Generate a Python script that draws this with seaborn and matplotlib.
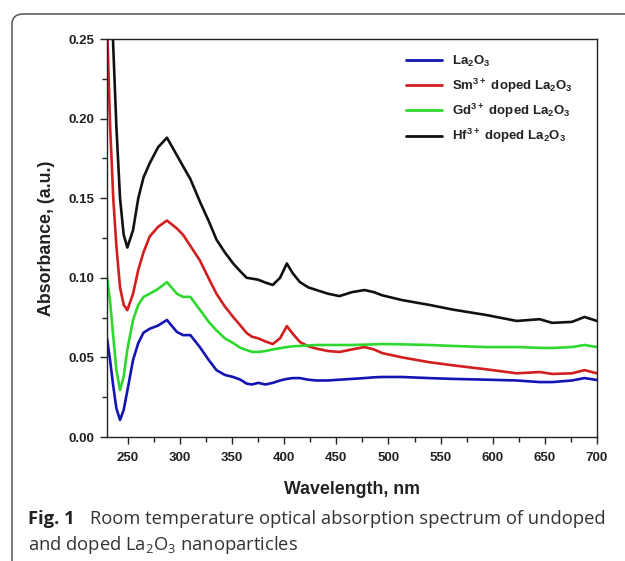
import matplotlib
matplotlib.use("Agg")
import matplotlib.pyplot as plt
import seaborn as sns
import pandas as pd
from matplotlib.patches import FancyBboxPatch
from matplotlib.ticker import MultipleLocator

wavelength = [230, 233, 236, 239, 242.5, 246, 249.5, 255, 260, 265, 271, 279, 287.5, 297, 303, 310,
              319, 328, 335, 343, 351, 358, 364, 369, 375, 382, 389, 396, 402.5, 408, 415, 423,
              431, 442, 453, 465, 477, 486, 494, 513, 539, 562, 594, 623, 645, 657, 676, 688, 700]

la2o3 = [0.062, 0.048, 0.032, 0.018, 0.0107, 0.017, 0.029, 0.0484, 0.059, 0.0655, 0.068, 0.070, 0.0735,
         0.066, 0.064, 0.064, 0.0565, 0.048, 0.042, 0.039, 0.0377, 0.036, 0.0335, 0.033, 0.034, 0.033,
         0.034, 0.0355, 0.0365, 0.037, 0.037, 0.036, 0.0355, 0.0355, 0.036, 0.0365, 0.037, 0.0375,
         0.0377, 0.0377, 0.037, 0.0365, 0.036, 0.0355, 0.0345, 0.0345, 0.0355, 0.037, 0.0358]

sm_doped = [0.26, 0.195, 0.150, 0.120, 0.094, 0.083, 0.0797, 0.090, 0.105, 0.116, 0.126, 0.132, 0.136,
            0.131, 0.127, 0.120, 0.111, 0.099, 0.090, 0.082, 0.0754, 0.070, 0.0653, 0.063, 0.062, 0.060,
            0.0584, 0.062, 0.0697, 0.065, 0.0597, 0.057, 0.0555, 0.054, 0.0534, 0.055, 0.0565, 0.055,
            0.0527, 0.050, 0.047, 0.045, 0.0425, 0.040, 0.0408, 0.0396, 0.040, 0.042, 0.040]

gd_doped = [0.1005, 0.085, 0.063, 0.042, 0.0295, 0.038, 0.055, 0.0735, 0.083, 0.088, 0.090, 0.093, 0.0973,
            0.090, 0.088, 0.088, 0.080, 0.072, 0.067, 0.062, 0.059, 0.056, 0.0546, 0.0535, 0.0534, 0.054,
            0.055, 0.0558, 0.0565, 0.057, 0.0572, 0.0575, 0.0578, 0.0578, 0.0578, 0.0578, 0.058, 0.0582,
            0.0584, 0.0582, 0.0578, 0.0572, 0.0565, 0.0565, 0.056, 0.0559, 0.0565, 0.0578, 0.0565]

hf_doped = [0.36, 0.30, 0.245, 0.195, 0.150, 0.127, 0.119, 0.130, 0.150, 0.163, 0.172, 0.182, 0.188,
            0.177, 0.170, 0.162, 0.148, 0.135, 0.124, 0.116, 0.109, 0.104, 0.100, 0.0995, 0.0988, 0.097,
            0.0955, 0.100, 0.109, 0.103, 0.0973, 0.094, 0.0923, 0.090, 0.0885, 0.091, 0.0923, 0.091,
            0.089, 0.086, 0.083, 0.080, 0.0766, 0.0729, 0.074, 0.0717, 0.0723, 0.0754, 0.0729]

labels = [r"La$_{\bf 2}$O$_{\bf 3}$",
          r"Sm$^{\bf 3+}$ doped La$_{\bf 2}$O$_{\bf 3}$",
          r"Gd$^{\bf 3+}$ doped La$_{\bf 2}$O$_{\bf 3}$",
          r"Hf$^{\bf 3+}$ doped La$_{\bf 2}$O$_{\bf 3}$"]
colors = ["#1414b4", "#d21e1e", "#2ed82e", "#111111"]

x_ticks = [250, 300, 350, 400, 450, 500, 550, 600, 650, 700]
y_ticks = [0.00, 0.05, 0.10, 0.15, 0.20, 0.25]

frames = []
for lab, vals in zip(labels, [la2o3, sm_doped, gd_doped, hf_doped]):
    frames.append(pd.DataFrame({"Wavelength": wavelength, "Absorbance": vals, "Sample": lab}))
df = pd.concat(frames, ignore_index=True)

sns.set_theme(style="ticks")
plt.rcParams["font.family"] = ["Liberation Sans", "DejaVu Sans"]
plt.rcParams["mathtext.default"] = "regular"
plt.rcParams["mathtext.fontset"] = "custom"
plt.rcParams["mathtext.bf"] = "Liberation Sans:bold"
plt.rcParams["mathtext.rm"] = "Liberation Sans"

fig = plt.figure(figsize=(6.25, 5.61), dpi=100)
fig.patch.set_facecolor("white")

# outer rounded frame
frame = FancyBboxPatch((12 / 625, -0.2), 1.2, 1 - 14 / 561 + 0.2,
                       boxstyle="round,pad=0,rounding_size=0.018",
                       transform=fig.transFigure, facecolor="none",
                       edgecolor="#555555", linewidth=1.1, zorder=0)
fig.patches.append(frame)

ax = fig.add_axes([107 / 625, 1 - 437 / 561, (597 - 107) / 625, (437 - 39) / 561])

sns.lineplot(data=df, x="Wavelength", y="Absorbance", hue="Sample", palette=colors,
             estimator=None, sort=False, linewidth=1.9, ax=ax, legend=True)

ax.set_xlim(230, 700)
ax.set_ylim(0, 0.25)
ax.set_xticks(x_ticks)
ax.set_yticks(y_ticks)
ax.set_xticklabels([str(v) for v in x_ticks])
ax.set_yticklabels([f"{v:.2f}" for v in y_ticks])
ax.xaxis.set_minor_locator(MultipleLocator(25))
ax.yaxis.set_minor_locator(MultipleLocator(0.025))
ax.tick_params(axis="both", which="major", direction="out", length=5, width=1.0,
               labelsize=9.5, colors="#222222", labelcolor="#222222")
ax.tick_params(axis="x", which="major", pad=6)
ax.tick_params(axis="y", which="major", pad=4)
ax.tick_params(axis="both", which="minor", direction="out", length=3.5, width=1.0, colors="#222222")
for lbl in ax.get_xticklabels() + ax.get_yticklabels():
    lbl.set_fontweight("bold")
for sp in ax.spines.values():
    sp.set_visible(True)
    sp.set_linewidth(1.0)
    sp.set_color("#222222")

ax.set_xlabel("Wavelength, nm", fontsize=12.8, fontweight="bold", color="#222222", labelpad=12)
ax.set_ylabel("Absorbance, (a.u.)", fontsize=12.8, fontweight="bold", color="#222222", labelpad=10)

leg = ax.legend(loc="upper left", bbox_to_anchor=((406 - 107) / 490, 1 - (54 - 39) / 398),
                frameon=False, fontsize=9.5, handlelength=2.7, handletextpad=0.8,
                labelspacing=0.55, borderpad=0, borderaxespad=0)
for t in leg.get_texts():
    t.set_fontweight("bold")
    t.set_color("#222222")
for h in leg.get_lines():
    h.set_linewidth(2.0)

cap_font = ["Open Sans", "DejaVu Sans"]
fig.text(28 / 625, 1 - 524 / 561, "Fig. 1", fontsize=13.2, fontweight="bold",
         family=cap_font, color="#222222", va="baseline")
fig.text(90 / 625, 1 - 524 / 561, "Room temperature optical absorption spectrum of undoped",
         fontsize=13.2, family=cap_font, color="#333333", va="baseline")
fig.text(28 / 625, 1 - 550 / 561, r"and doped La$_{2}$O$_{3}$ nanoparticles",
         fontsize=13.2, family=cap_font, color="#333333", va="baseline")

fig.savefig("out.png", dpi=100, facecolor="white")
